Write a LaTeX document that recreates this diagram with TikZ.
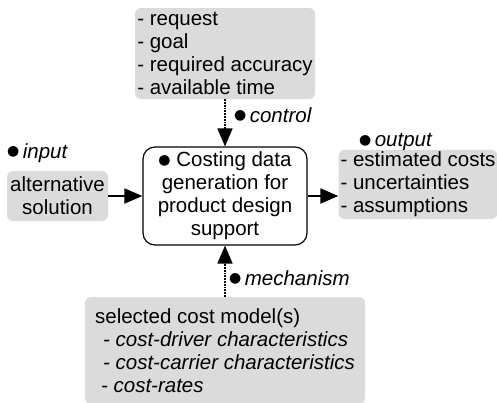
\documentclass[tikz,border=0pt]{standalone}
\usepackage{fontspec}
\setmainfont{Liberation Sans}
\newfontfamily\symfont{DejaVu Sans}
\newcommand\bul{\raisebox{2.5pt}{\symfont\fontsize{14}{14}\selectfont ●}}
\usetikzlibrary{arrows.meta}

\begin{document}
\begin{tikzpicture}[x=1pt,y=-1pt,font=\fontsize{20.5}{23}\selectfont,
greybox/.style={fill=black!14,rounded corners=6pt,inner sep=2pt},
lbl/.style={inner sep=0pt,anchor=west},
flow/.style={-{Triangle[length=18pt,width=15pt]},line width=1.8pt},
ctl/.style={flow,densely dotted,line width=1.6pt}]
\useasboundingbox (0,0) rectangle (497,402);
%%% activity
\node[draw,rounded corners=12pt,line width=1.2pt,minimum width=164pt,minimum height=98pt,align=center](main)at(225,196){\bul\ Costing data\\generation for\\product design\\support};
%%% boxes round it
\node[greybox,minimum width=180pt,minimum height=91pt,align=left](ctrl)at(225,53.5){- request\\- goal\\- required accuracy\\- available time};
\node[greybox,minimum width=101pt,minimum height=50pt,align=center](in)at(57.5,196){alternative\\solution};
\node[greybox,minimum width=158pt,minimum height=65pt,align=left](out)at(418,184.5){- estimated costs\\- uncertainties\\- assumptions};
\node[greybox,minimum width=280pt,minimum height=107pt,align=left](mech)at(225,350.5){selected cost model(s)\\
\hspace*{8pt}\textit{- cost-driver characteristics}\\
\hspace*{8pt}\textit{- cost-carrier characteristics}\\
\hspace*{6pt}\textit{- cost-rates}};
%%% labels
\node[lbl](inlbl)at(7,153){\bul\,\textit{input}};
\node[lbl](ctrllbl)at(234,115){\bul\,\textit{control}};
\node[lbl](outlbl)at(359,142){\bul\,\textit{output}};
\node[lbl](mechlbl)at(229,278){\bul\,\textit{mechanism}};
%%% arrows
\draw[ctl](ctrl)--(main);
\draw[ctl](mech)--(main);
\draw[flow](in)--(main);
\draw[flow](main)--(main-|out.west);
\end{tikzpicture}
\end{document}
